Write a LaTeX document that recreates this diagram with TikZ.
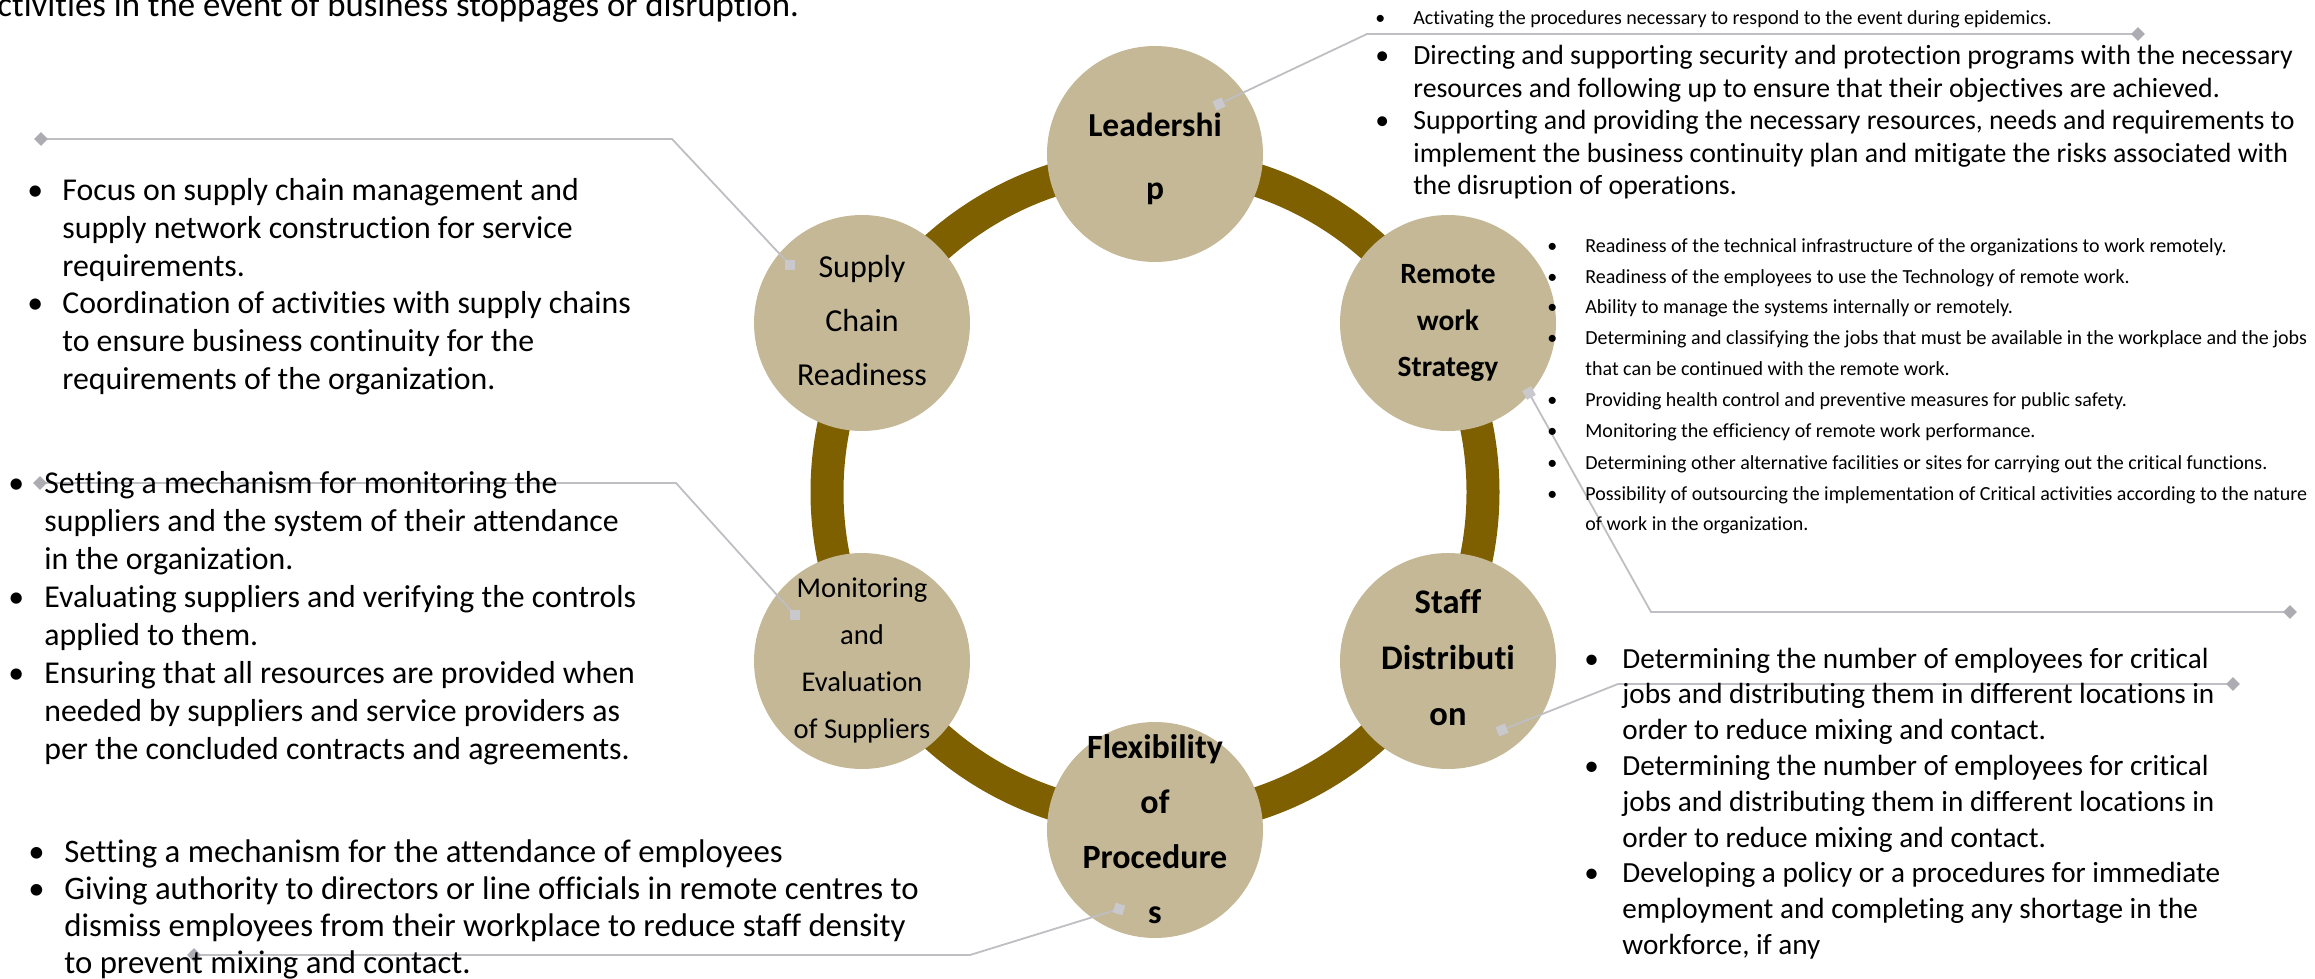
\documentclass[tikz,border=0pt]{standalone}
\usepackage{fontspec}
\setmainfont{Carlito}[Ligatures={NoCommon}]
\usetikzlibrary{shapes.geometric}
\definecolor{ringc}{HTML}{7F6000}
\definecolor{discc}{HTML}{C4B896}
\definecolor{linec}{HTML}{BEBEC3}
\definecolor{sqc}{HTML}{C8C8CD}
\definecolor{dmc}{HTML}{ACACB2}
\newlength\bgap
\newcommand{\bitem}{\makebox[\bgap][l]{\textbullet}}
\newcommand{\bcont}{\hspace*{\bgap}}
\newcommand{\fs}[2]{\fontsize{#1}{#2}\selectfont}

\begin{document}
\begin{tikzpicture}[x=0.5pt,y=-0.5pt,
  disc/.style={circle,fill=discc,minimum size=108pt,inner sep=0pt},
  conn/.style={draw=linec,line width=0.9pt},
  endsq/.style={rectangle,fill=sqc,minimum size=5pt,inner sep=0pt},
  enddm/.style={diamond,fill=dmc,minimum width=7pt,minimum height=7pt,inner sep=0pt},
  blist/.style={anchor=base west,inner sep=0pt,text=black},
  ctext/.style={align=center,inner sep=0pt,text=black}]
\useasboundingbox (0,0) rectangle (2315,979);

% ring behind the six discs
\coordinate (hub) at (1155,492);
\draw[ringc,line width=16.5pt] (hub) circle[radius=328];

% discs
\node[disc] (lead)    at (1155,154) {};
\node[disc] (supply)  at (862,323)  {};
\node[disc] (remote)  at (1448,323) {};
\node[disc] (monitor) at (862,661)  {};
\node[disc] (staff)   at (1448,661) {};
\node[disc] (flex)    at (1155,830) {};

% callout points: p = inside disc, k = knee, e = far end
\coordinate (pL) at (1219,104); \coordinate (kL) at (1367,34);  \coordinate (eL) at (2138,34);
\coordinate (pS) at (790,265);  \coordinate (kS) at (672,139);  \coordinate (eS) at (41,139);
\coordinate (pM) at (795,615);  \coordinate (kM) at (676,483);  \coordinate (eM) at (40,483);
\coordinate (pR) at (1529,393); \coordinate (kR) at (1651,612); \coordinate (eR) at (2290,612);
\coordinate (pD) at (1502,730); \coordinate (kD) at (1618,684); \coordinate (eD) at (2233,684);
\coordinate (pF) at (1119,909); \coordinate (kF) at (970,955);  \coordinate (eF) at (194,955);

\draw[conn] (pL) -- (kL) -- (eL);
\draw[conn] (pS) -- (kS) -- (eS);
\draw[conn] (pM) -- (kM) -- (eM);
\draw[conn] (pR) -- (kR) -- (eR);
\draw[conn] (pD) -- (kD) -- (eD);
\draw[conn] (pF) -- (kF) -- (eF);

\node[endsq,rotate=25] (mL) at (pL) {};
\node[endsq] (mS) at (pS) {};
\node[endsq] (mM) at (pM) {};
\node[endsq,rotate=29] (mR) at (pR) {};
\node[endsq,rotate=22] (mD) at (pD) {};
\node[endsq,rotate=-17] (mF) at (pF) {};
\node[enddm] (dL) at (eL) {};
\node[enddm] (dS) at (eS) {};
\node[enddm] (dM) at (eM) {};
\node[enddm] (dR) at (eR) {};
\node[enddm] (dD) at (eD) {};
\node[enddm] (dF) at (eF) {};

% disc labels
\node[ctext,font=\fs{16.75pt}{31.5pt}\bfseries] (leadT) at (1155,159) {Leadershi\\p};
\node[ctext,font=\fs{16pt}{27pt}] (supplyT) at (862,321) {Supply\\Chain\\Readiness};
\node[ctext,font=\fs{14.7pt}{23.25pt}\bfseries] (remoteT) at (1448,323) {Remote\\work\\Strategy};
\node[ctext,font=\fs{14.3pt}{23.5pt}] (monitorT) at (862,660) {Monitoring\\and\\Evaluation\\of Suppliers};
\node[ctext,font=\fs{17.25pt}{28pt}\bfseries] (staffT) at (1448,658) {Staff\\Distributi\\on};
\node[ctext,font=\fs{17pt}{27.5pt}\bfseries] (flexT) at (1155,829) {Flexibility\\of\\Procedure\\s};

% heading fragment, running off the top edge
\node[blist,font=\fs{17.4pt}{20pt}] (title) at (-3,17) {ctivities in the event of business stoppages or disruption.};

% leadership notes
\node[blist,font=\fs{10pt}{16pt}] (leadA) at (1375,25) {\setlength\bgap{19pt}\begin{tabular}[t]{@{}l@{}}
\bitem Activating the procedures necessary to respond to the event during epidemics.
\end{tabular}};
\node[blist,font=\fs{13.9pt}{16.25pt}] (leadB) at (1375,65) {\setlength\bgap{19pt}\begin{tabular}[t]{@{}l@{}}
\bitem Directing and supporting security and protection programs with the necessary\\
\bcont resources and following up to ensure that their objectives are achieved.\\
\bitem Supporting and providing the necessary resources, needs and requirements to\\
\bcont implement the business continuity plan and mitigate the risks associated with\\
\bcont the disruption of operations.
\end{tabular}};

% remote work notes
\node[blist,font=\fs{10pt}{15.5pt}] (remoteN) at (1547,252) {\setlength\bgap{19pt}\begin{tabular}[t]{@{}l@{}}
\bitem Readiness of the technical infrastructure of the organizations to work remotely.\\
\bitem Readiness of the employees to use the Technology of remote work.\\
\bitem Ability to manage the systems internally or remotely.\\
\bitem Determining and classifying the jobs that must be available in the workplace and the jobs\\
\bcont that can be continued with the remote work.\\
\bitem Providing health control and preventive measures for public safety.\\
\bitem Monitoring the efficiency of remote work performance.\\
\bitem Determining other alternative facilities or sites for carrying out the critical functions.\\
\bitem Possibility of outsourcing the implementation of Critical activities according to the nature\\
\bcont of work in the organization.
\end{tabular}};

% staff distribution notes
\node[blist,font=\fs{14.6pt}{17.9pt}] (staffN) at (1584,668) {\setlength\bgap{19pt}\begin{tabular}[t]{@{}l@{}}
\bitem Determining the number of employees for critical\\
\bcont jobs and distributing them in different locations in\\
\bcont order to reduce mixing and contact.\\
\bitem Determining the number of employees for critical\\
\bcont jobs and distributing them in different locations in\\
\bcont order to reduce mixing and contact.\\
\bitem Developing a policy or a procedures for immediate\\
\bcont employment and completing any shortage in the\\
\bcont workforce, if any
\end{tabular}};

% supply chain notes
\node[blist,font=\fs{15.9pt}{19pt}] (supplyN) at (27,200) {\setlength\bgap{17.5pt}\begin{tabular}[t]{@{}l@{}}
\bitem Focus on supply chain management and\\
\bcont supply network construction for service\\
\bcont requirements.\\
\bitem Coordination of activities with supply chains\\
\bcont to ensure business continuity for the\\
\bcont requirements of the organization.
\end{tabular}};

% supplier monitoring notes
\node[blist,font=\fs{15.9pt}{19pt}] (monitorN) at (8,493) {\setlength\bgap{18pt}\begin{tabular}[t]{@{}l@{}}
\bitem Setting a mechanism for monitoring the\\
\bcont suppliers and the system of their attendance\\
\bcont in the organization.\\
\bitem Evaluating suppliers and verifying the controls\\
\bcont applied to them.\\
\bitem Ensuring that all resources are provided when\\
\bcont needed by suppliers and service providers as\\
\bcont per the concluded contracts and agreements.
\end{tabular}};

% procedure flexibility notes
\node[blist,font=\fs{16.4pt}{18.6pt}] (flexN) at (28,862) {\setlength\bgap{18pt}\begin{tabular}[t]{@{}l@{}}
\bitem Setting a mechanism for the attendance of employees\\
\bitem Giving authority to directors or line officials in remote centres to\\
\bcont dismiss employees from their workplace to reduce staff density\\
\bcont to prevent mixing and contact.
\end{tabular}};
\end{tikzpicture}
\end{document}
